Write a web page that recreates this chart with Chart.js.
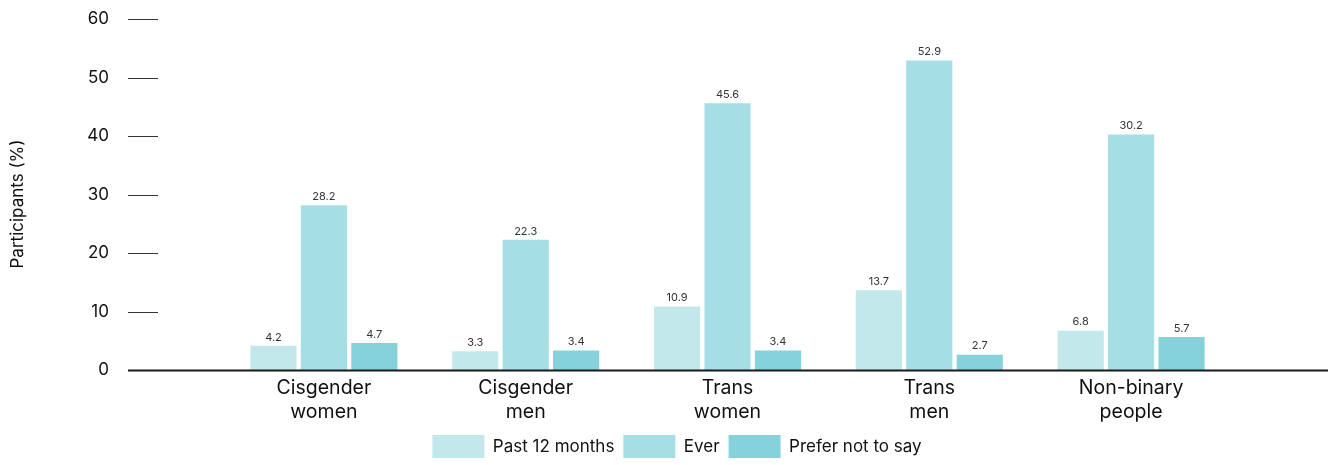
<!DOCTYPE html>
<html>
<head>
<meta charset="utf-8">
<script src="https://cdn.jsdelivr.net/npm/chart.js@4"></script>
<style>
  html, body { margin: 0; padding: 0; background: #fff; }
  #wrap { width: 1333px; height: 465px; position: relative; }
</style>
</head>
<body>
<div id="wrap"><canvas id="myChart"></canvas></div>
<script>
// data
const categories = [["Cisgender", "women"], ["Cisgender", "men"], ["Trans", "women"], ["Trans", "men"], ["Non-binary", "people"]];
const seriesNames = ["Past 12 months", "Ever", "Prefer not to say"];
const past12 = [4.2, 3.3, 10.9, 13.7, 6.8];
const ever = [28.2, 22.3, 45.6, 52.9, 40.3];
const preferNot = [4.7, 3.4, 3.4, 2.7, 5.7];
// printed labels (the last "Ever" bar is printed 30.2 in the source)
const past12Labels = ["4.2", "3.3", "10.9", "13.7", "6.8"];
const everLabels = ["28.2", "22.3", "45.6", "52.9", "30.2"];
const preferLabels = ["4.7", "3.4", "3.4", "2.7", "5.7"];
const yTicks = [0, 10, 20, 30, 40, 50, 60];
const yTitle = "Participants (%)";

const colors = ["#c3e8eb", "#a6dee6", "#85d2da"];
const FONT = "Inter";

const extras = {
  id: "extras",
  afterDatasetsDraw(chart) {
    const ctx = chart.ctx;
    const y = chart.scales.y;
    ctx.save();
    // y tick labels + short dashes
    ctx.font = "17px " + FONT;
    ctx.fillStyle = "#111";
    ctx.textAlign = "right";
    ctx.textBaseline = "middle";
    ctx.strokeStyle = "#333";
    ctx.lineWidth = 1;
    yTicks.forEach(t => {
      const py = Math.round(y.getPixelForValue(t));
      ctx.fillText(String(t), 109, py);
      if (t === 0) return;
      ctx.beginPath();
      ctx.moveTo(128, py + 0.5);
      ctx.lineTo(158, py + 0.5);
      ctx.stroke();
    });
    // baseline
    const by = y.getPixelForValue(0);
    ctx.strokeStyle = "#1a1a1a";
    ctx.lineWidth = 2;
    ctx.beginPath();
    ctx.moveTo(128, by);
    ctx.lineTo(1328, by);
    ctx.stroke();
    // value labels
    const allLabels = [past12Labels, everLabels, preferLabels];
    ctx.font = "11px " + FONT;
    ctx.fillStyle = "#333";
    ctx.textAlign = "center";
    ctx.textBaseline = "bottom";
    chart.data.datasets.forEach((ds, i) => {
      chart.getDatasetMeta(i).data.forEach((bar, j) => {
        ctx.fillText(allLabels[i][j], bar.x, bar.y - 3);
      });
    });
    // axis title
    ctx.font = "17px " + FONT;
    ctx.fillStyle = "#111";
    ctx.textBaseline = "middle";
    ctx.translate(18, 204);
    ctx.rotate(-Math.PI / 2);
    ctx.fillText(yTitle, 0, 0);
    ctx.restore();
  }
};

const config = {
  type: "bar",
  data: {
    labels: categories,
    datasets: [
      { label: seriesNames[0], data: past12, backgroundColor: colors[0] },
      { label: seriesNames[1], data: ever, backgroundColor: colors[1] },
      { label: seriesNames[2], data: preferNot, backgroundColor: colors[2] }
    ]
  },
  options: {
    responsive: true,
    maintainAspectRatio: false,
    animation: false,
    datasets: { bar: { categoryPercentage: 0.75, barPercentage: 0.915 } },
    layout: { padding: { left: 122, right: 101, top: 19, bottom: -3 } },
    plugins: {
      legend: {
        position: "bottom",
        labels: {
          boxWidth: 52,
          boxHeight: 23,
          padding: 9,
          color: "#111",
          font: { family: FONT, size: 17 }
        }
      },
      tooltip: { enabled: false }
    },
    scales: {
      x: {
        afterFit: (scale) => { scale.height -= 4; },
        grid: { display: false, drawTicks: false },
        border: { display: false },
        ticks: { color: "#111", padding: 5, font: { family: FONT, size: 19.5, lineHeight: 1.27 }, maxRotation: 0 }
      },
      y: {
        min: 0,
        max: 60,
        afterFit: (scale) => { scale.width = 101; },
        grid: { display: false, drawTicks: false },
        border: { display: false },
        ticks: { display: false, stepSize: 10 }
      }
    }
  },
  plugins: [extras]
};

new Chart(document.getElementById("myChart"), config);
</script>
</body>
</html>
